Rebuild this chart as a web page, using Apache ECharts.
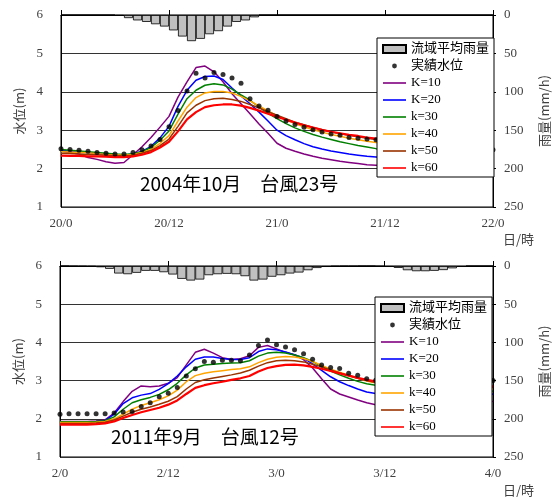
<!DOCTYPE html>
<html>
<head>
<meta charset="utf-8">
<script src="https://cdn.jsdelivr.net/npm/echarts@6/dist/echarts.min.js"></script>
<style>
  html, body { margin: 0; padding: 0; background: #fff; }
  #chart { width: 559px; height: 497px; }
</style>
</head>
<body>
<div id="chart"></div>
<script>
// ---- Tick labels (day/hour) ----
const topTicks = ['20/0', '20/12', '21/0', '21/12', '22/0'];
const botTicks = ['2/0', '2/12', '3/0', '3/12', '4/0'];

// ---- Series names ----
const rainName = '流域平均雨量';
const obsName = '実績水位';
const kNames = ['K=10', 'K=20', 'k=30', 'k=40', 'k=50', 'k=60'];
const kColors = ['#800080', '#0000ff', '#008000', '#ffa500', '#993300', '#ff0000'];
const kWidths = [1.5, 1.5, 1.5, 1.5, 1.5, 2.2];

// ---- 2004/10 Typhoon 23: hourly rainfall (mm/h), hours 0..47 ----
const topRain = [0, 0, 0, 0, 0, 0, 1, 4, 7, 9, 12, 15, 20, 28, 34, 31, 25, 21, 15, 9, 7, 3,
  0, 0, 0, 0, 0, 0, 0, 0, 0, 0, 0, 0, 0, 0, 0, 0, 0, 0, 0, 0, 0, 0, 0, 0, 0, 0];

// ---- 2004/10 water level (m), hours 0..48 ----
const topObs = [2.52, 2.50, 2.48, 2.45, 2.42, 2.40, 2.38, 2.38, 2.42, 2.49, 2.59, 2.76, 3.09, 3.51, 4.02, 4.48,
  4.36, 4.50, 4.45, 4.36, 4.22, 3.82, 3.63, 3.52, 3.36, 3.24, 3.15, 3.08, 3.01, 2.95, 2.90, 2.87, 2.81,
  2.79, 2.77, 2.75, 2.73, 2.71, 2.69, 2.67, 2.65, 2.63, 2.61, 2.59, 2.57, 2.55, 2.53, 2.51, 2.49];
const topK10 = [2.46, 2.42, 2.38, 2.29, 2.24, 2.18, 2.14, 2.16, 2.36, 2.57, 2.81, 3.08, 3.36, 3.86, 4.26, 4.63,
  4.67, 4.52, 4.26, 3.95, 3.69, 3.43, 3.16, 2.92, 2.66, 2.53, 2.45, 2.38, 2.32, 2.27, 2.23, 2.19, 2.16,
  2.13, 2.10, 2.09, 2.08, 2.06, 2.05, 2.03, 2.02, 2.01, 2.00, 1.98, 1.97, 1.96, 1.95, 1.93, 1.91];
const topK20 = [2.47, 2.46, 2.44, 2.42, 2.40, 2.37, 2.35, 2.35, 2.38, 2.45, 2.58, 2.80, 3.10, 3.62, 4.04, 4.30,
  4.40, 4.41, 4.32, 4.10, 3.89, 3.69, 3.47, 3.24, 3.00, 2.86, 2.75, 2.65, 2.57, 2.51, 2.46, 2.42, 2.38,
  2.35, 2.32, 2.30, 2.28, 2.26, 2.24, 2.22, 2.20, 2.19, 2.17, 2.16, 2.14, 2.13, 2.12, 2.10, 2.09];
const topK30 = [2.50, 2.48, 2.46, 2.44, 2.42, 2.40, 2.38, 2.37, 2.39, 2.44, 2.55, 2.74, 2.98, 3.42, 3.82, 4.04,
  4.17, 4.21, 4.18, 4.07, 3.92, 3.78, 3.60, 3.44, 3.30, 3.17, 3.06, 2.97, 2.89, 2.82, 2.76, 2.70, 2.65,
  2.60, 2.56, 2.52, 2.49, 2.46, 2.43, 2.40, 2.38, 2.35, 2.33, 2.31, 2.29, 2.27, 2.25, 2.23, 2.21];
const topK40 = [2.44, 2.43, 2.42, 2.41, 2.39, 2.37, 2.36, 2.35, 2.37, 2.42, 2.50, 2.66, 2.86, 3.24, 3.60, 3.85,
  3.97, 4.01, 4.01, 3.97, 3.88, 3.76, 3.63, 3.50, 3.38, 3.27, 3.17, 3.09, 3.01, 2.95, 2.89, 2.84, 2.79,
  2.75, 2.71, 2.68, 2.65, 2.62, 2.59, 2.56, 2.53, 2.50, 2.47, 2.44, 2.41, 2.39, 2.37, 2.34, 2.32];
const topK50 = [2.40, 2.39, 2.38, 2.37, 2.36, 2.35, 2.34, 2.33, 2.35, 2.40, 2.47, 2.60, 2.77, 3.10, 3.45, 3.65,
  3.77, 3.82, 3.83, 3.80, 3.75, 3.67, 3.58, 3.48, 3.39, 3.30, 3.21, 3.14, 3.07, 3.01, 2.96, 2.91, 2.87,
  2.83, 2.79, 2.76, 2.73, 2.70, 2.67, 2.64, 2.61, 2.58, 2.55, 2.52, 2.49, 2.47, 2.45, 2.42, 2.40];
const topK60 = [2.34, 2.33, 2.33, 2.32, 2.32, 2.31, 2.30, 2.30, 2.32, 2.36, 2.43, 2.55, 2.70, 2.97, 3.28, 3.47,
  3.60, 3.65, 3.67, 3.67, 3.64, 3.58, 3.51, 3.43, 3.35, 3.27, 3.20, 3.13, 3.07, 3.01, 2.96, 2.92, 2.88,
  2.85, 2.81, 2.78, 2.75, 2.72, 2.69, 2.66, 2.63, 2.60, 2.57, 2.55, 2.52, 2.50, 2.48, 2.45, 2.43];

// ---- 2011/9 Typhoon 12: hourly rainfall (mm/h), hours 0..47 ----
const botRain = [0, 0.4, 0.6, 0.8, 1.6, 3.7, 9.8, 10.7, 8.9, 6.3, 6.3, 8.1, 11.1, 16.8, 19.0, 17.7,
  12.0, 10.7, 10.2, 10.7, 13.3, 19.0, 17.7, 14.0, 12.0, 9.8, 8.5, 5.5, 2.6, 1.2, 0.5, 0.3,
  0.3, 0, 0, 0.6, 1.2, 2.5, 5.5, 6.8, 6.8, 6.3, 5.3, 3.0, 1.2, 0, 0, 0];

// ---- 2011/9 water level (m), hours 0..48 ----
const botObs = [2.12, 2.13, 2.13, 2.13, 2.13, 2.13, 2.15, 2.18, 2.19, 2.32, 2.42, 2.58, 2.67, 2.82, 3.12, 3.31,
  3.50, 3.48, 3.53, 3.53, 3.52, 3.67, 3.92, 4.06, 3.94, 3.88, 3.81, 3.70, 3.56, 3.41, 3.34, 3.32, 3.19,
  3.14, 3.05, 3.01, 2.97, 2.94, 2.92, 2.91, 2.91, 2.92, 2.94, 2.96, 2.98, 2.99, 3.00, 3.00, 3.00];
const botK10 = [1.93, 1.93, 1.93, 1.93, 1.94, 1.97, 2.15, 2.45, 2.72, 2.86, 2.84, 2.86, 2.93, 3.08, 3.41, 3.74,
  3.82, 3.72, 3.60, 3.55, 3.57, 3.65, 3.87, 3.92, 3.83, 3.74, 3.67, 3.55, 3.33, 3.05, 2.78, 2.65, 2.57,
  2.49, 2.42, 2.37, 2.33, 2.31, 2.32, 2.37, 2.44, 2.51, 2.57, 2.61, 2.63, 2.62, 2.60, 2.54, 2.45];
const botK20 = [1.90, 1.90, 1.90, 1.91, 1.92, 1.95, 2.12, 2.40, 2.55, 2.62, 2.66, 2.77, 2.92, 3.12, 3.36, 3.56,
  3.62, 3.62, 3.58, 3.55, 3.55, 3.60, 3.76, 3.83, 3.81, 3.75, 3.68, 3.59, 3.44, 3.27, 3.10, 2.97, 2.87,
  2.78, 2.70, 2.66, 2.62, 2.59, 2.58, 2.59, 2.61, 2.64, 2.67, 2.70, 2.71, 2.71, 2.70, 2.68, 2.64];
const botK30 = [1.92, 1.92, 1.92, 1.92, 1.93, 1.95, 2.05, 2.25, 2.42, 2.50, 2.56, 2.64, 2.76, 2.93, 3.15, 3.33,
  3.41, 3.43, 3.45, 3.46, 3.47, 3.52, 3.64, 3.72, 3.74, 3.72, 3.67, 3.60, 3.50, 3.37, 3.25, 3.15, 3.06,
  2.98, 2.92, 2.88, 2.84, 2.81, 2.79, 2.78, 2.78, 2.79, 2.80, 2.80, 2.80, 2.79, 2.77, 2.75, 2.72];
const botK40 = [1.90, 1.90, 1.90, 1.90, 1.91, 1.93, 2.00, 2.12, 2.25, 2.35, 2.42, 2.50, 2.60, 2.75, 2.97, 3.13,
  3.19, 3.23, 3.26, 3.29, 3.31, 3.36, 3.47, 3.56, 3.61, 3.63, 3.62, 3.58, 3.50, 3.40, 3.30, 3.22, 3.14,
  3.06, 2.99, 2.94, 2.90, 2.86, 2.84, 2.82, 2.82, 2.82, 2.83, 2.83, 2.83, 2.82, 2.81, 2.80, 2.78];
const botK50 = [1.88, 1.88, 1.88, 1.88, 1.89, 1.91, 1.97, 2.07, 2.17, 2.25, 2.31, 2.38, 2.46, 2.58, 2.78, 2.95,
  3.02, 3.07, 3.11, 3.15, 3.20, 3.27, 3.38, 3.47, 3.52, 3.53, 3.52, 3.49, 3.43, 3.36, 3.28, 3.20, 3.13,
  3.06, 3.00, 2.95, 2.91, 2.88, 2.86, 2.85, 2.84, 2.84, 2.84, 2.85, 2.85, 2.85, 2.84, 2.83, 2.82];
const botK60 = [1.85, 1.85, 1.85, 1.85, 1.86, 1.88, 1.93, 2.02, 2.10, 2.17, 2.23, 2.29, 2.37, 2.48, 2.65, 2.81,
  2.88, 2.93, 2.97, 3.02, 3.06, 3.12, 3.24, 3.33, 3.38, 3.41, 3.42, 3.40, 3.36, 3.31, 3.25, 3.19, 3.13,
  3.07, 3.02, 2.98, 2.95, 2.92, 2.90, 2.88, 2.87, 2.86, 2.86, 2.86, 2.86, 2.86, 2.86, 2.86, 2.85];

// ---- Build the options ----
const hourCats = topRain.map((_, i) => String(i));
const tickFont = 'Liberation Serif';
const jpFont = 'Noto Sans CJK JP';
const labelColor = '#404040';

// legend glyphs: a thin horizontal bar for the lines, a small dot for the observations
const lineIcon = 'path://M0,0L23,0L23,1.6L0,1.6Z';
const dotIcon = 'path://M0,0L0.01,0L0,0.01Z M23,8L23.01,8L23,8.01Z M11.5,4m-2.4,0a2.4,2.4 0 1,0 4.8,0a2.4,2.4 0 1,0 -4.8,0Z';

function pairs(arr) { return arr.map((v, i) => [i, v]); }

function panelAxes(gridIndex, ticks) {
  const x = [
    {
      gridIndex, type: 'value', min: 0, max: 48, interval: 12,
      axisLine: { lineStyle: { color: '#000', width: 1 } },
      axisTick: { inside: true, length: 5, lineStyle: { color: '#000' } },
      axisLabel: { formatter: v => ticks[v / 12], margin: 10, fontFamily: tickFont, fontSize: 13, color: labelColor },
      splitLine: { show: false }
    },
    { gridIndex, type: 'category', data: hourCats, show: false, boundaryGap: true }
  ];
  const y = [
    {
      gridIndex, type: 'value', min: 1, max: 6, interval: 1, position: 'left',
      name: '水位(m)', nameLocation: 'middle', nameRotate: 90, nameGap: 27,
      nameTextStyle: { fontFamily: jpFont, fontSize: 13, color: labelColor },
      axisLine: { show: true, lineStyle: { color: '#000' } },
      axisTick: { show: false },
      axisLabel: { margin: 18, fontFamily: tickFont, fontSize: 13, color: labelColor },
      splitLine: { show: true, lineStyle: { color: '#333', width: 1 } }
    },
    {
      gridIndex, type: 'value', min: 0, max: 250, interval: 50, inverse: true, position: 'right',
      name: '雨量(mm/h)', nameLocation: 'middle', nameRotate: 90, nameGap: 45,
      nameTextStyle: { fontFamily: jpFont, fontSize: 13, color: labelColor },
      axisLine: { show: true, lineStyle: { color: '#000' } },
      axisTick: { show: true, length: 3, lineStyle: { color: '#000' } },
      axisLabel: { margin: 11, fontFamily: tickFont, fontSize: 13, color: labelColor },
      splitLine: { show: false }
    }
  ];
  return { x, y };
}

function panelSeries(p, rain, obs, ks) {
  const xv = p * 2, xc = p * 2 + 1, yl = p * 2, yr = p * 2 + 1;
  const list = [{
    name: rainName, type: 'bar', xAxisIndex: xc, yAxisIndex: yr, data: rain,
    barCategoryGap: '0%', barGap: '0%', z: 1,
    itemStyle: { color: '#c0c0c0', borderColor: '#000', borderWidth: 0.8 }
  }];
  ks.forEach((arr, i) => {
    list.push({
      name: kNames[i], type: 'line', xAxisIndex: xv, yAxisIndex: yl, data: pairs(arr),
      symbol: 'none', smooth: false,
      lineStyle: { color: kColors[i], width: kWidths[i] },
      itemStyle: { color: kColors[i] }, z: 2
    });
  });
  list.push({
    name: obsName, type: 'scatter', xAxisIndex: xv, yAxisIndex: yl, data: pairs(obs),
    symbol: 'circle', symbolSize: 5, itemStyle: { color: '#000' }, z: 3
  });
  return list;
}

function legendFor(left, top) {
  return {
    orient: 'vertical', left, top, z: 20,
    padding: [4, 5, 2, 5], itemGap: 3, itemWidth: 23, itemHeight: 8,
    backgroundColor: '#fff', borderColor: '#000', borderWidth: 1,
    selectedMode: false,
    textStyle: { fontFamily: tickFont + ', ' + jpFont, fontSize: 13, color: '#000', lineHeight: 14 },
    data: [
      { name: rainName, icon: 'rect' },
      { name: obsName, icon: dotIcon, itemStyle: { color: '#000' } }
    ].concat(kNames.map((n, i) => ({
      name: n, icon: lineIcon,
      itemStyle: { color: kColors[i], borderWidth: 0 },
      lineStyle: { width: 0 }
    })))
  };
}

const a0 = panelAxes(0, topTicks);
const a1 = panelAxes(1, botTicks);

const option = {
  animation: false,
  backgroundColor: '#fff',
  grid: [
    { left: 61, top: 15, width: 437, height: 192, show: true, borderColor: '#000', borderWidth: 1 },
    { left: 60, top: 266, width: 438, height: 191, show: true, borderColor: '#000', borderWidth: 1 }
  ],
  xAxis: a0.x.concat(a1.x),
  yAxis: a0.y.concat(a1.y),
  legend: [legendFor(377, 38), legendFor(375, 297)],
  series: panelSeries(0, topRain, topObs, [topK10, topK20, topK30, topK40, topK50, topK60])
    .concat(panelSeries(1, botRain, botObs, [botK10, botK20, botK30, botK40, botK50, botK60])),
  graphic: [
    { type: 'text', left: 140, top: 174, style: { text: '2004年10月　台風23号', font: '19px "' + jpFont + '"', fill: '#000' } },
    { type: 'text', left: 111, top: 427, style: { text: '2011年9月　台風12号', font: '19px "' + jpFont + '"', fill: '#000' } },
    { type: 'text', left: 503, top: 233, style: { text: '日/時', font: '13px "' + jpFont + '"', fill: labelColor } },
    { type: 'text', left: 503, top: 484, style: { text: '日/時', font: '13px "' + jpFont + '"', fill: labelColor } }
  ]
};

const chart = echarts.init(document.getElementById('chart'), null, { renderer: 'canvas' });
chart.setOption(option);
</script>
</body>
</html>
